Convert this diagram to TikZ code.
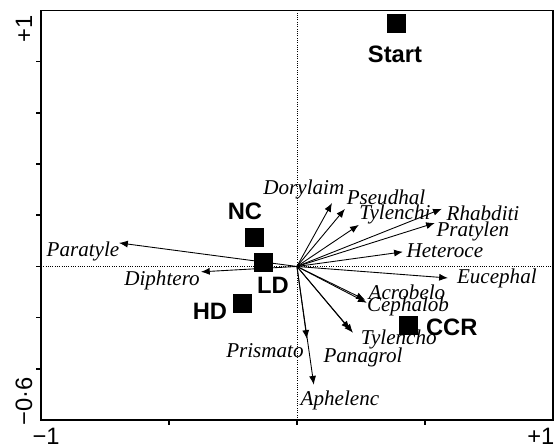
\documentclass[tikz,border=0pt]{standalone}
\usepackage{fontspec}
\setmainfont{Liberation Serif}
\setsansfont{Liberation Sans}
\usetikzlibrary{arrows.meta}

\tikzset{
	taxon/.style={font=\fontsize{12}{14}\selectfont\itshape,inner sep=0},
	site/.style={draw,fill=black,inner sep=0,outer sep=0,minimum size=0.36cm},
	sitename/.style={font=\fontsize{13.5}{15}\selectfont\sffamily\bfseries,inner sep=0},
	ticklab/.style={font=\fontsize{13.5}{15}\selectfont\sffamily,inner sep=0},
	vec/.style={line width=0.5pt,-{Latex[length=5pt,width=4pt]}},
	axisdot/.style={line width=0.4pt,dash pattern=on 0.5pt off 0.8pt}
}

\begin{document}
\begin{tikzpicture}[x=5.12cm,y=5.12cm]
	\useasboundingbox (-1.160,-0.697) rectangle (1.016,1.041);
	% frame and zero lines
	\draw[axisdot] (-1,0) -- (1,0);
	\draw[axisdot] (0,-0.6) -- (0,1);
	\draw[line width=0.9pt] (-1,-0.6) rectangle (1,1);
	\foreach \t in {-0.4,-0.2,0,0.2,0.4,0.6,0.8}
		\draw[line width=0.9pt] (-1,\t) -- ++(-3pt,0);
	\foreach \t in {-0.5,0,0.5}
		\draw[line width=0.9pt] (\t,-0.6) -- ++(0,-3pt);
	\node[ticklab,rotate=90] (ytop) at (-1.066,0.928) {+1};
	\node[ticklab,rotate=90] (ybot) at (-1.066,-0.526) {−0·6};
	\node[ticklab] (xleft) at (-0.980,-0.662) {−1};
	\node[ticklab] (xright) at (0.953,-0.662) {+1};
	% species vectors
	\coordinate (o) at (0,0);
	\coordinate (paratyle) at (-0.695,0.092);
	\coordinate (diphtero) at (-0.375,-0.021);
	\coordinate (dorylaim) at (0.137,0.248);
	\coordinate (pseudhal) at (0.1875,0.225);
	\coordinate (tylenchi) at (0.242,0.1625);
	\coordinate (rhabditi) at (0.566,0.225);
	\coordinate (pratylen) at (0.539,0.170);
	\coordinate (heteroce) at (0.414,0.057);
	\coordinate (eucephal) at (0.590,-0.045);
	\coordinate (acrobelo) at (0.266,-0.130);
	\coordinate (cephalob) at (0.273,-0.142);
	\coordinate (tylencho) at (0.219,-0.259);
	\coordinate (panagrol) at (0.207,-0.247);
	\coordinate (prismato) at (0.039,-0.283);
	\coordinate (aphelenc) at (0.066,-0.462);
	\draw[vec] (o) -- (paratyle);
	\draw[vec] (o) -- (diphtero);
	\draw[vec] (o) -- (dorylaim);
	\draw[vec] (o) -- (pseudhal);
	\draw[vec] (o) -- (tylenchi);
	\draw[vec] (o) -- (rhabditi);
	\draw[vec] (o) -- (pratylen);
	\draw[vec] (o) -- (heteroce);
	\draw[vec] (o) -- (eucephal);
	\draw[vec] (o) -- (acrobelo);
	\draw[vec] (o) -- (cephalob);
	\draw[vec] (o) -- (tylencho);
	\draw[vec] (o) -- (panagrol);
	\draw[vec] (o) -- (prismato);
	\draw[vec] (o) -- (aphelenc);
	\node[taxon] (l-paratyle) at (-0.836,0.057) {Paratyle};
	\node[taxon] (l-diphtero) at (-0.527,-0.056) {Diphtero};
	\node[taxon] (l-dorylaim) at (0.027,0.299) {Dorylaim};
	\node[taxon] (l-pseudhal) at (0.348,0.272) {Pseudhal};
	\node[taxon] (l-tylenchi) at (0.383,0.2016) {Tylenchi};
	\node[taxon] (l-rhabditi) at (0.727,0.209) {Rhabditi};
	\node[taxon] (l-pratylen) at (0.6875,0.135) {Pratylen};
	\node[taxon] (l-heteroce) at (0.578,0.061) {Heteroce};
	\node[taxon] (l-eucephal) at (0.781,-0.045) {Eucephal};
	\node[taxon] (l-acrobelo) at (0.430,-0.099) {Acrobelo};
	\node[taxon] (l-cephalob) at (0.434,-0.158) {Cephalob};
	\node[taxon] (l-tylencho) at (0.398,-0.287) {Tylencho};
	\node[taxon] (l-panagrol) at (0.258,-0.357) {Panagrol};
	\node[taxon] (l-prismato) at (-0.125,-0.330) {Prismato};
	\node[taxon] (l-aphelenc) at (0.168,-0.525) {Aphelenc};
	% sites
	\node[site] (start) at (0.387,0.948) {};
	\node[site] (nc) at (-0.168,0.112) {};
	\node[site] (ld) at (-0.133,0.018) {};
	\node[site] (hd) at (-0.215,-0.146) {};
	\node[site] (ccr) at (0.434,-0.232) {};
	\node[sitename] (l-start) at (0.383,0.827) {Start};
	\node[sitename] (l-nc) at (-0.203,0.217) {NC};
	\node[sitename] (l-ld) at (-0.094,-0.072) {LD};
	\node[sitename] (l-hd) at (-0.340,-0.177) {HD};
	\node[sitename] (l-ccr) at (0.605,-0.236) {CCR};
\end{tikzpicture}
\end{document}
